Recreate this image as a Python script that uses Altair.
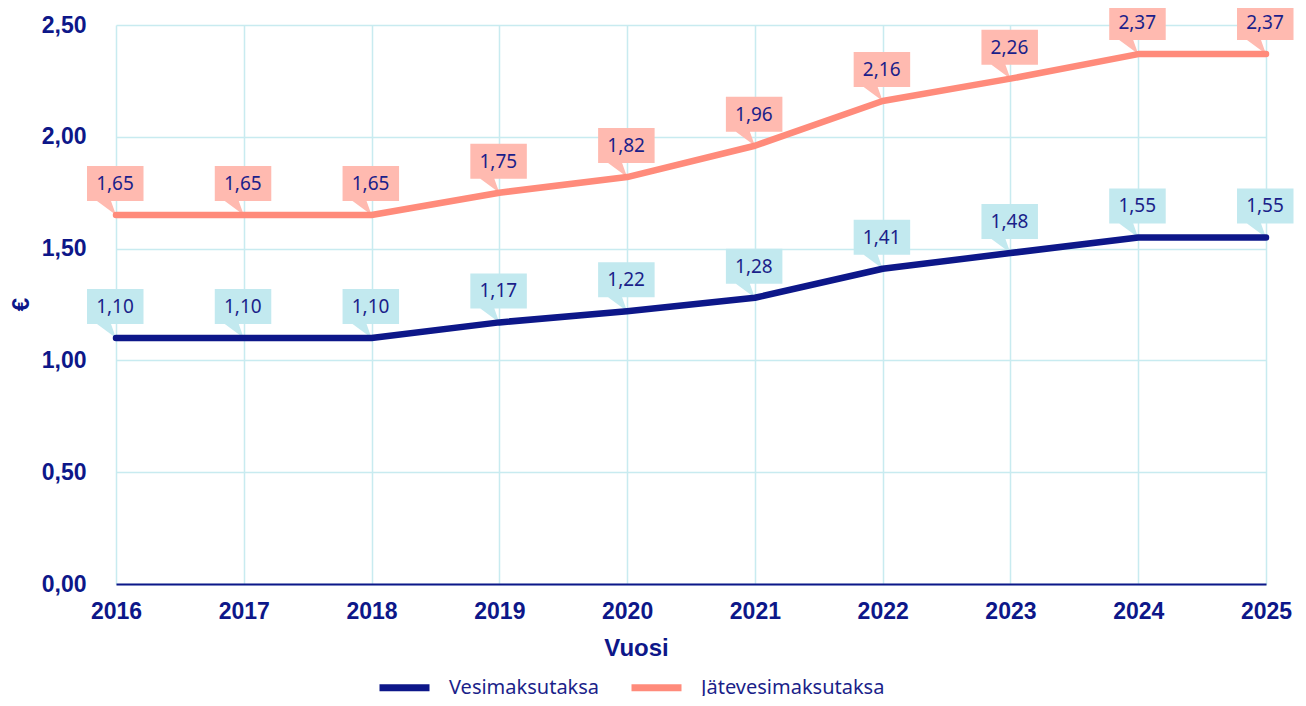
import altair as alt
import pandas as pd

years = [2016, 2017, 2018, 2019, 2020, 2021, 2022, 2023, 2024, 2025]
vesi = [1.10, 1.10, 1.10, 1.17, 1.22, 1.28, 1.41, 1.48, 1.55, 1.55]
jate = [1.65, 1.65, 1.65, 1.75, 1.82, 1.96, 2.16, 2.26, 2.37, 2.37]
series = ["Vesimaksutaksa", "Jätevesimaksutaksa"]
y_ticks = [0, 0.5, 1.0, 1.5, 2.0, 2.5]

NAVY = "#0d1789"
SALMON = "#ff8b7b"
GRID = "#c8ebf0"
TEXT = "#1b1f8a"
BOX = {"Vesimaksutaksa": "#c2e9ef", "Jätevesimaksutaksa": "#ffbab0"}

rows = []
for yv, a, b in zip(years, vesi, jate):
    rows.append({"Vuosi": yv, "series": series[0], "value": a})
    rows.append({"Vuosi": yv, "series": series[1], "value": b})
df = pd.DataFrame(rows)

callout = "M-0.58,-0.98 L0.55,-0.98 L0.55,-0.28 L-0.1,-0.28 L0,0 L-0.38,-0.28 L-0.58,-0.28 Z"

x = alt.X("Vuosi:Q", scale=alt.Scale(domain=[2016, 2025], nice=False, zero=False),
          axis=alt.Axis(values=years, format="d", title="Vuosi", labelFlush=False))
y = alt.Y("value:Q", scale=alt.Scale(domain=[0, 2.5], nice=False),
          axis=alt.Axis(values=y_ticks, title="€", labelFlush=False,
                        labelExpr="replace(format(datum.value, '.2f'), '.', ',')"))

base = alt.Chart(df).encode(x=x, y=y)

box_layers = [
    base.transform_filter(alt.datum.series == s).mark_point(
        shape=callout, size=10000, filled=True, opacity=1, strokeWidth=0, fill=BOX[s]
    )
    for s in series
]

lines = base.mark_line(strokeWidth=6.5, strokeCap="round", strokeJoin="round").encode(
    stroke=alt.Stroke("series:N", scale=alt.Scale(domain=series, range=[NAVY, SALMON]),
                      legend=alt.Legend(orient="none", legendX=260, legendY=634,
                                        direction="horizontal",
                                        symbolType="stroke", symbolSize=2500, symbolStrokeWidth=7,
                                        labelFont="Noto Sans", labelFontSize=20, labelLimit=400,
                                        labelColor=TEXT, columnPadding=17, labelOffset=16)),
)

texts = base.transform_calculate(
    label="replace(format(datum.value, '.2f'), '.', ',')"
).mark_text(font="Noto Sans", fontSize=19, color=TEXT, dy=-31, dx=-1, baseline="middle").encode(
    text="label:N"
)

chart = alt.layer(*box_layers, lines, texts).properties(
    width=1150, height=559,
    autosize=alt.AutoSizeParams(type="none"),
    padding={"left": 108, "top": 17, "right": 30, "bottom": 112},
).configure_view(stroke=None).configure_axis(
    grid=True, gridColor=GRID, gridWidth=1.5, ticks=False,
    labelFont="Liberation Sans", labelFontWeight="bold", labelFontSize=23, labelColor=NAVY,
    titleFont="Liberation Sans", titleFontWeight="bold", titleFontSize=24, titleColor=NAVY,
).configure_axisX(
    domainColor=NAVY, domainWidth=2, labelPadding=16, titleY=64, titleX=520,
    titleAlign="center", titleBaseline="middle"
).configure_axisY(
    domain=False, labelPadding=30, titleX=-95, titleY=279, titleBaseline="middle",
    titleAlign="center", titleAngle=-90
).configure_legend(title=None)

chart.save("out.html", embed_options={"renderer": "svg", "actions": False})
